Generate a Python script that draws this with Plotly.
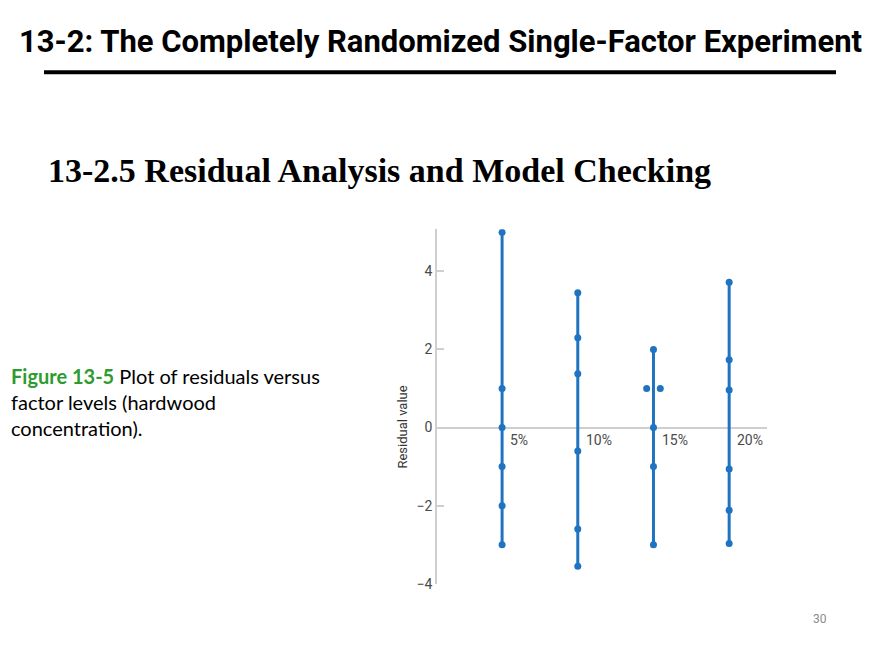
import plotly.graph_objects as go

# factor levels (hardwood concentration) and residuals
levels = ["5%", "10%", "15%", "20%"]
res_5 = [5.0, 1.0, 0.0, -1.0, -2.0, -3.0]
res_10 = [3.45, 2.3, 1.38, -0.6, -2.6, -3.55]
res_15 = [2.0, 1.0, 1.0, 0.0, -1.0, -3.0]
res_20 = [3.72, 1.74, 0.96, -1.06, -2.12, -2.97]
y_ticks = [-4, -2, 0, 2, 4]

residuals = [res_5, res_10, res_15, res_20]
blue = "#1f73c1"
axis_grey = "#cfcfcf"
label_grey = "#4a4a4a"

# page body has an 8px margin; keep the figure inside the window
W, H, PAD = 864, 644, 8


def px(x):
    return (x - PAD) / W


def py(y):
    return 1 - (y - PAD) / H


fig = go.Figure()

for i, (lvl, res) in enumerate(zip(levels, residuals)):
    xpos = i + 1
    # vertical line from lowest to highest residual
    fig.add_trace(go.Scatter(x=[xpos, xpos], y=[min(res), max(res)], mode="lines",
                             line=dict(color=blue, width=3), hoverinfo="skip"))
    # spread tied values sideways so both dots show
    xs = []
    for j, v in enumerate(res):
        n = res.count(v)
        if n > 1:
            k = res[:j].count(v)
            xs.append(xpos + (k - (n - 1) / 2) * 0.18)
        else:
            xs.append(xpos)
    fig.add_trace(go.Scatter(x=xs, y=res, mode="markers", name=lvl,
                             marker=dict(color=blue, size=7)))
    fig.add_annotation(x=xpos + 0.08, y=-0.33, text=lvl, showarrow=False,
                       xanchor="left", yanchor="middle",
                       font=dict(family="Roboto, sans-serif", size=14, color=label_grey))

fig.update_xaxes(domain=[px(437), px(767)], range=[0.14, 4.5], visible=False)
fig.update_yaxes(domain=[py(591), py(232)], range=[-4, 5.08],
                 tickvals=y_ticks, showgrid=False,
                 showline=True, linecolor=axis_grey, linewidth=1.5,
                 zeroline=True, zerolinecolor=axis_grey, zerolinewidth=1.5,
                 ticks="inside", ticklen=7, tickcolor=axis_grey, tickwidth=1.5,
                 tickfont=dict(family="Roboto, sans-serif", size=14, color=label_grey))

# axis title sits level with the zero line
fig.add_annotation(x=px(403), y=0, xref="paper", yref="y", text="Residual value",
                   textangle=-90, showarrow=False, xanchor="center", yanchor="middle",
                   font=dict(family="Roboto, sans-serif", size=13, color="#333333"))

# slide texts
fig.add_annotation(x=px(440), y=py(42), xref="paper", yref="paper",
                   text="<b>13-2: The Completely Randomized Single-Factor Experiment</b>",
                   showarrow=False, xanchor="center", yanchor="middle",
                   font=dict(family="Roboto, sans-serif", size=31, color="black"))
fig.add_shape(type="line", xref="paper", yref="paper",
              x0=px(44), x1=px(836), y0=py(73), y1=py(73),
              line=dict(color="black", width=4))
fig.add_annotation(x=px(46), y=py(173), xref="paper", yref="paper",
                   text="<b>13-2.5 Residual Analysis and Model Checking</b>",
                   showarrow=False, xanchor="left", yanchor="middle",
                   font=dict(family="Liberation Serif, serif", size=34, color="black"))
fig.add_annotation(x=px(9), y=py(407), xref="paper", yref="paper",
                   text="<b><span style='color:#2e9b2e'>Figure 13-5</span></b> Plot of residuals versus"
                        "<br>factor levels (hardwood<br>concentration).",
                   showarrow=False, xanchor="left", yanchor="middle", align="left",
                   font=dict(family="Lato, sans-serif", size=20, color="black"))
fig.add_annotation(x=px(820), y=py(627), xref="paper", yref="paper",
                   text="30", showarrow=False, xanchor="center", yanchor="middle",
                   font=dict(family="Roboto, sans-serif", size=12, color="#8a8a8a"))

fig.update_layout(width=W, height=H, margin=dict(l=0, r=0, t=0, b=0),
                  paper_bgcolor="white", plot_bgcolor="white", showlegend=False)

fig.write_html("out.html")
